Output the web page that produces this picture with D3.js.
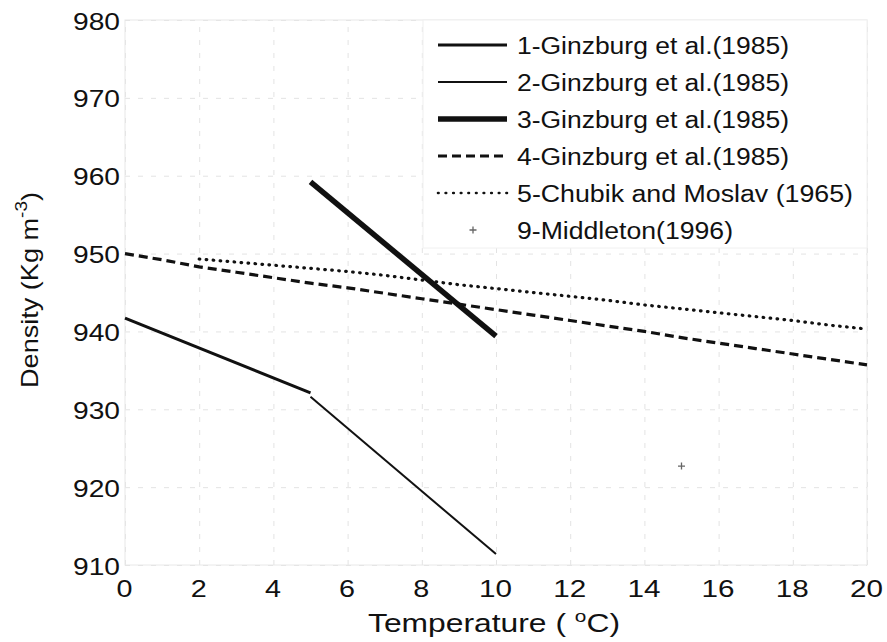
<!DOCTYPE html>
<html>
<head>
<meta charset="utf-8">
<script src="https://cdn.jsdelivr.net/npm/d3@7"></script>
<style>
  html, body { margin: 0; padding: 0; background: #fff; }
  svg { display: block; }
  text { font-family: "Liberation Sans", Arial, Helvetica, sans-serif; fill: #111; }
</style>
</head>
<body>
<svg id="chart" width="887" height="642"></svg>
<script>
// Sea-ice density vs temperature, several published relations
const xTicks = [0, 2, 4, 6, 8, 10, 12, 14, 16, 18, 20];
const yTicks = [910, 920, 930, 940, 950, 960, 970, 980];

// 1-Ginzburg et al. (1985), 0–5 °C
const ginz1T = [0, 5];
const ginz1D = [941.7, 932.1];
// 2-Ginzburg et al. (1985), 5–10 °C
const ginz2T = [5, 10];
const ginz2D = [931.6, 911.4];
// 3-Ginzburg et al. (1985), 5–10 °C
const ginz3T = [5, 10];
const ginz3D = [959.2, 939.4];
// 4-Ginzburg et al. (1985), 0–20 °C
const ginz4T = [0, 1, 2, 3, 4, 5, 6, 7, 8, 9, 10, 11, 12, 13, 14, 15, 16, 17, 18, 19, 20];
const ginz4D = [950.0, 949.2, 948.3, 947.6, 946.9, 946.2, 945.6, 944.9, 944.2, 943.5, 942.8,
                942.1, 941.4, 940.7, 940.0, 939.2, 938.5, 937.8, 937.1, 936.4, 935.7];
// 5-Chubik and Moslav (1965), 2–20 °C
const chubT = [2, 3, 4, 5, 6, 7, 8, 9, 10, 11, 12, 13, 14, 15, 16, 17, 18, 19, 20];
const chubD = [949.3, 948.9, 948.5, 948.1, 947.7, 947.2, 946.6, 946.0, 945.5, 945.0,
               944.5, 944.0, 943.4, 942.9, 942.4, 941.9, 941.4, 940.8, 940.3];
// 9-Middleton (1996), single measurement
const middT = [15];
const middD = [922.7];

const legendLabels = [
  "1-Ginzburg et al.(1985)",
  "2-Ginzburg et al.(1985)",
  "3-Ginzburg et al.(1985)",
  "4-Ginzburg et al.(1985)",
  "5-Chubik and Moslav (1965)",
  "9-Middleton(1996)"
];

const svg = d3.select("#chart");
const pL = 125, pR = 867, pT = 20, pB = 565;
const x = d3.scaleLinear().domain([0, 20]).range([pL, pR]);
const y = d3.scaleLinear().domain([910, 980]).range([pB, pT]);

// grid (very faint dashed)
const gridColor = "#e3e3e3";
const grid = svg.append("g").attr("class", "grid");
grid.append("g")
  .attr("transform", `translate(0,${pB})`)
  .call(d3.axisBottom(x).tickValues(xTicks).tickSize(-(pB - pT)).tickFormat(""))
  .call(g => g.select(".domain").remove())
  .call(g => g.selectAll("line").attr("stroke", gridColor).attr("stroke-dasharray", "5,8"));
grid.append("g")
  .attr("transform", `translate(${pL},0)`)
  .call(d3.axisLeft(y).tickValues(yTicks).tickSize(-(pR - pL)).tickFormat(""))
  .call(g => g.select(".domain").remove())
  .call(g => g.selectAll("line").attr("stroke", gridColor).attr("stroke-dasharray", "5,8"));

// axes box
svg.append("rect")
  .attr("x", pL).attr("y", pT)
  .attr("width", pR - pL).attr("height", pB - pT)
  .attr("fill", "none").attr("stroke", "#e8e8e8").attr("stroke-width", 1);

// tick labels
const xAxis = svg.append("g")
  .attr("transform", `translate(0,${pB})`)
  .call(d3.axisBottom(x).tickValues(xTicks).tickSize(0).tickPadding(0).tickFormat(d3.format("d")));
xAxis.select(".domain").remove();
xAxis.selectAll("text")
  .attr("dy", null)
  .attr("y", 32)
  .attr("x", -1)
  .style("font-size", "24px")
  .style("font-family", "'Liberation Sans', Arial, sans-serif")
  .attr("fill", "#111")
  .attr("textLength", d => String(d).length === 1 ? 16 : 33)
  .attr("lengthAdjust", "spacingAndGlyphs");

const yAxis = svg.append("g")
  .attr("transform", `translate(${pL},0)`)
  .call(d3.axisLeft(y).tickValues(yTicks).tickSize(0).tickPadding(0).tickFormat(d3.format("d")));
yAxis.select(".domain").remove();
yAxis.selectAll("text")
  .attr("dy", null)
  .attr("y", 9)
  .attr("x", -5)
  .style("font-size", "24px")
  .style("font-family", "'Liberation Sans', Arial, sans-serif")
  .attr("fill", "#111")
  .attr("textLength", 47)
  .attr("lengthAdjust", "spacingAndGlyphs");

// axis titles
const xt = svg.append("text")
  .attr("x", 368).attr("y", 632)
  .attr("textLength", 252).attr("lengthAdjust", "spacingAndGlyphs")
  .style("font-size", "26px");
xt.append("tspan").text("Temperature ( ");
xt.append("tspan").text("o").attr("dy", -10).style("font-size", "17px");
xt.append("tspan").text("C)").attr("dy", 10);

const yt = svg.append("text")
  .attr("transform", "translate(38,388) rotate(-90) scale(1,1.2)")
  .attr("textLength", 196).attr("lengthAdjust", "spacingAndGlyphs")
  .style("font-size", "20px");
yt.append("tspan").text("Density (Kg m");
yt.append("tspan").text("-3").attr("dy", -9).style("font-size", "14px");
yt.append("tspan").text(")").attr("dy", 9);

// series
const line = d3.line().x(d => x(d[0])).y(d => y(d[1]));
const zipped = (t, v) => t.map((d, i) => [d, v[i]]);

const styles = [
  { w: 3.0, dash: null, cap: "butt" },
  { w: 2.0, dash: null, cap: "butt" },
  { w: 5.5, dash: null, cap: "butt" },
  { w: 3.2, dash: "9,5", cap: "butt" },
  { w: 3.2, dash: "0.6,6.4", cap: "round" }
];
const seriesData = [
  zipped(ginz1T, ginz1D),
  zipped(ginz2T, ginz2D),
  zipped(ginz3T, ginz3D),
  zipped(ginz4T, ginz4D),
  zipped(chubT, chubD)
];

// legend box
const lgX = 423, lgY = pT, lgW = pR - 423, lgH = 228;
svg.append("rect")
  .attr("x", lgX).attr("y", lgY).attr("width", lgW).attr("height", lgH)
  .attr("fill", "#fff").attr("stroke", "#f0f0f0");

const lines = svg.append("g");
seriesData.forEach((pts, i) => {
  lines.append("path")
    .datum(pts)
    .attr("d", line)
    .attr("fill", "none")
    .attr("stroke", "#111")
    .attr("stroke-width", styles[i].w)
    .attr("stroke-linecap", styles[i].cap)
    .attr("stroke-dasharray", styles[i].dash);
});

// single point marker
const plus = (g, cx, cy, s) => {
  g.append("path")
    .attr("d", `M${cx - s},${cy}H${cx + s}M${cx},${cy - s}V${cy + s}`)
    .attr("stroke", "#666").attr("stroke-width", 1.3).attr("fill", "none");
};
zipped(middT, middD).forEach(d => plus(svg, x(d[0]), y(d[1]), 3.5));

// legend entries
const legendWidths = [272, 272, 272, 272, 336, 216];
const lg = svg.append("g");
legendLabels.forEach((lab, i) => {
  const base = 54 + i * 37;
  const cy = base - 9;
  if (i < 5) {
    lg.append("line")
      .attr("x1", 438).attr("x2", 507).attr("y1", cy).attr("y2", cy)
      .attr("stroke", "#111")
      .attr("stroke-width", i === 4 ? 2.6 : styles[i].w)
      .attr("stroke-linecap", styles[i].cap)
      .attr("stroke-dasharray", i === 4 ? "0.6,7" : styles[i].dash);
  } else {
    plus(lg, 473, cy, 3.5);
  }
  lg.append("text")
    .attr("x", 517).attr("y", base)
    .attr("textLength", legendWidths[i]).attr("lengthAdjust", "spacingAndGlyphs")
    .style("font-size", "23px")
    .text(lab);
});
</script>
</body>
</html>
